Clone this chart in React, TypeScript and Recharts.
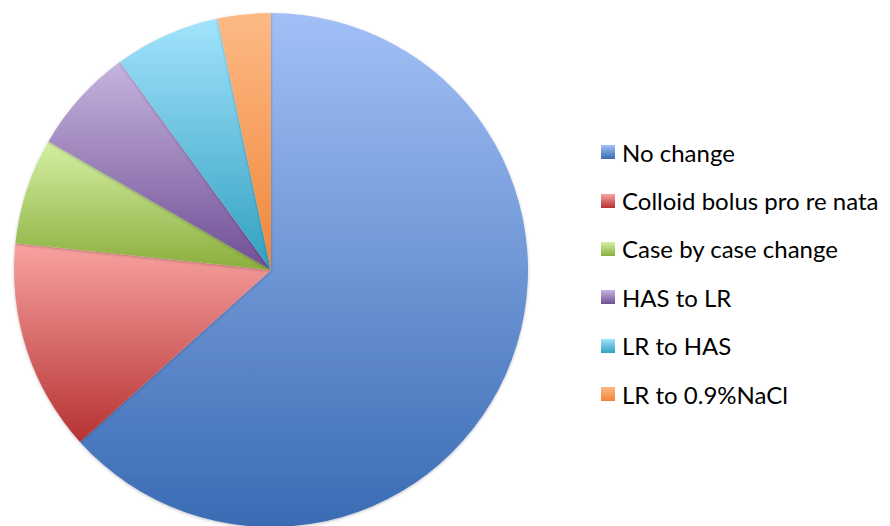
import { PieChart, Pie, Cell, Legend } from 'recharts';

const categories = ['No change', 'Colloid bolus pro re nata', 'Case by case change', 'HAS to LR', 'LR to HAS', 'LR to 0.9%NaCl'];
const counts = [19, 4, 2, 2, 2, 1];
const topColors = ['#a2c0f7', '#f8a3a1', '#d4f0a4', '#c6b4df', '#a2e3fc', '#fdba85'];
const bottomColors = ['#3a6bb3', '#b63232', '#8aae3d', '#6f4e94', '#31a0c0', '#f0863a'];

const data = categories.map((name, i) => ({ name, value: counts[i] }));

function LegendList() {
  return (
    <div style={{ fontFamily: 'Lato, "Open Sans", sans-serif', fontSize: 24, color: '#000' }}>
      {categories.map((name, i) => (
        <div key={name} style={{ display: 'flex', alignItems: 'center', height: 48.4, whiteSpace: 'nowrap' }}>
          <span
            style={{
              width: 14,
              height: 14,
              marginRight: 7,
              background: `linear-gradient(${topColors[i]}, ${bottomColors[i]})`,
              display: 'inline-block',
            }}
          />
          <span>{name}</span>
        </div>
      ))}
    </div>
  );
}

export default function App() {
  return (
    <div style={{ position: 'absolute', left: 0, top: 0, background: '#fff' }}>
      <PieChart width={890} height={526} margin={{ top: 0, right: 0, bottom: 0, left: 0 }}>
        <defs>
          {topColors.map((c, i) => (
            <linearGradient key={i} id={`slice${i}`} x1="0" y1="0" x2="0" y2="1">
              <stop offset="0%" stopColor={c} />
              <stop offset="100%" stopColor={bottomColors[i]} />
            </linearGradient>
          ))}
          <filter id="pieShadow" x="-10%" y="-10%" width="120%" height="120%">
            <feDropShadow dx="0" dy="1" stdDeviation="1.5" floodColor="#000" floodOpacity="0.25" />
          </filter>
        </defs>
        <Pie
          data={data}
          dataKey="value"
          nameKey="name"
          cx={271}
          cy={270}
          outerRadius={257}
          startAngle={90}
          endAngle={-270}
          stroke="none"
          isAnimationActive={false}
          style={{ filter: 'url(#pieShadow)' }}
        >
          {data.map((d, i) => (
            <Cell key={d.name} fill={`url(#slice${i})`} />
          ))}
        </Pie>
        <Legend
          layout="vertical"
          content={() => <LegendList />}
          wrapperStyle={{ position: 'absolute', left: 601, top: 128, width: 300 }}
        />
      </PieChart>
    </div>
  );
}
